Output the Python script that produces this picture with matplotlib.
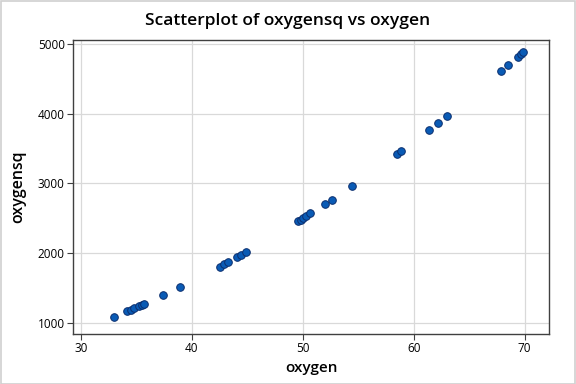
import matplotlib
matplotlib.use("Agg")
import matplotlib.pyplot as plt
from matplotlib.patches import Rectangle

# values
oxygen = [33.0, 34.2, 34.5, 34.8, 35.2, 35.5, 35.7, 37.4, 38.9,
          42.5, 42.9, 43.3, 44.1, 44.4, 44.9,
          49.6, 49.8, 50.0, 50.3, 50.7, 52.0, 52.6, 54.4,
          58.5, 58.9, 61.4, 62.2, 63.0,
          67.9, 68.5, 69.4, 69.7, 69.9]
oxygensq = [1089, 1170, 1190, 1211, 1239, 1260, 1274, 1399, 1513,
            1806, 1840, 1875, 1945, 1971, 2016,
            2460, 2480, 2500, 2530, 2570, 2704, 2767, 2959,
            3422, 3469, 3770, 3869, 3969,
            4610, 4692, 4816, 4858, 4886]
xticks = [30, 40, 50, 60, 70]
yticks = [1000, 2000, 3000, 4000, 5000]

plt.rcParams["font.family"] = ["Open Sans", "DejaVu Sans"]

fig = plt.figure(figsize=(5.76, 3.84), dpi=100)
ax = fig.add_axes([0.127, 0.130, 0.826, 0.766])

ax.scatter(oxygen, oxygensq, s=30, color="#0a5bb5", edgecolor="#0b2e6e",
           linewidth=0.7, zorder=3)

ax.set_xlim(29.3, 72.2)
ax.set_ylim(842, 5057)
ax.set_xticks(xticks)
ax.set_yticks(yticks)
ax.grid(True, color="#d9d9d9", lw=0.9, zorder=0)
ax.tick_params(direction="out", length=4, width=0.8, color="#404040",
               labelsize=8.5, pad=2)
for sp in ax.spines.values():
    sp.set_color("#404040")
    sp.set_linewidth(1.0)

ax.set_xlabel("oxygen", fontsize=11, fontweight="semibold", labelpad=4)
ax.set_ylabel("oxygensq", fontsize=11.5, fontweight="semibold", labelpad=8)
fig.text(0.5, 0.945, "Scatterplot of oxygensq vs oxygen", ha="center",
         va="center", fontsize=12.5, fontweight="semibold")

# light frame around the whole graph
fig.patches.append(Rectangle((0.001, 0.001), 0.997, 0.997, transform=fig.transFigure,
                             fill=False, edgecolor="#d0d0d0", lw=1.2))

fig.savefig("out.png", dpi=100)
